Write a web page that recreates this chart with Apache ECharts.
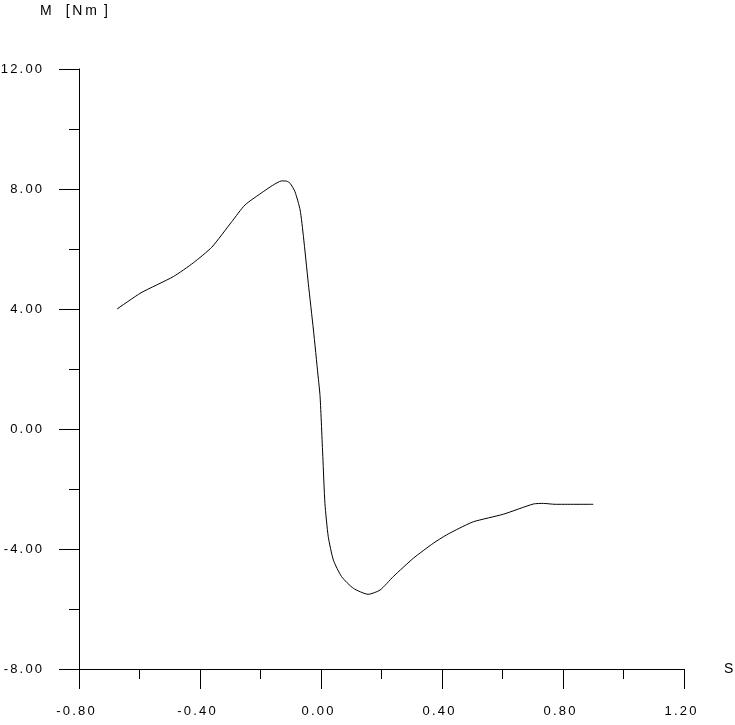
<!DOCTYPE html>
<html><head><meta charset="utf-8">
<script src="https://cdn.jsdelivr.net/npm/echarts@6/dist/echarts.min.js"></script>
<style>html,body{margin:0;padding:0;background:#fff}#c{width:735px;height:725px}</style>
</head><body><div id="c"></div>
<script>
const xs = [-0.674,-0.595,-0.488,-0.422,-0.361,-0.295,-0.251,-0.191,-0.160,-0.130,-0.113,-0.102,-0.086,-0.069,-0.058,-0.042,-0.025,-0.010,-0.003,0.006,0.013,0.024,0.041,0.068,0.107,0.156,0.195,0.239,0.305,0.371,0.415,0.457,0.504,0.603,0.702,0.735,0.774,0.90];
const ys = [4.0,4.54,5.08,5.54,6.06,6.91,7.47,7.91,8.12,8.27,8.26,8.19,7.91,7.3,6.41,4.86,3.3,1.8,1.08,-0.92,-2.48,-3.59,-4.37,-4.92,-5.31,-5.51,-5.37,-4.92,-4.31,-3.81,-3.53,-3.31,-3.09,-2.84,-2.5,-2.48,-2.51,-2.51];
const yTitle = 'M\u2003[\u2009N\u2009m\u2002]';
const xTitle = 'S';
const font = 'Liberation Sans';
const spaced = v => v.toFixed(2).split('').join('\u2006');
const chart = echarts.init(document.getElementById('c'));
chart.setOption({
  animation: false,
  backgroundColor: '#fff',
  title: { text: yTitle, left: 35, top: -1, textStyle: { fontFamily: font, fontSize: 14, fontWeight: 'normal', color: '#000' } },
  grid: { left: 79, right: 51, top: 69, bottom: 56, containLabel: false, outerBoundsMode: 'none' },
  xAxis: {
    type: 'value', min: -0.8, max: 1.2, interval: 0.4,
    name: xTitle, nameLocation: 'end', nameGap: 40,
    nameTextStyle: { fontFamily: font, fontSize: 14, color: '#000', padding: [10, 0, 0, 0] },
    axisLine: { onZero: false, lineStyle: { color: '#000', width: 1 } },
    axisTick: { show: true, length: 20, lineStyle: { color: '#000' } },
    minorTick: { show: true, splitNumber: 2, length: 10, lineStyle: { color: '#000' } },
    splitLine: { show: false },
    axisLabel: { formatter: spaced, margin: 36, fontFamily: font, fontSize: 13, color: '#000', padding: [0, 7, 0, 0] }
  },
  yAxis: {
    type: 'value', min: -8, max: 12, interval: 4,
    axisLine: { show: true, onZero: false, lineStyle: { color: '#000', width: 1 } },
    axisTick: { show: true, length: 20, lineStyle: { color: '#000' } },
    minorTick: { show: true, splitNumber: 2, length: 10, lineStyle: { color: '#000' } },
    splitLine: { show: false },
    axisLabel: { formatter: spaced, margin: 37, fontFamily: font, fontSize: 13, color: '#000', padding: [6, 0, 0, 0] }
  },
  series: [{
    type: 'line', data: xs.map((x, i) => [x, ys[i]]),
    showSymbol: false, smooth: 0.2,
    lineStyle: { color: '#000', width: 1 }
  }]
});
</script></body></html>
